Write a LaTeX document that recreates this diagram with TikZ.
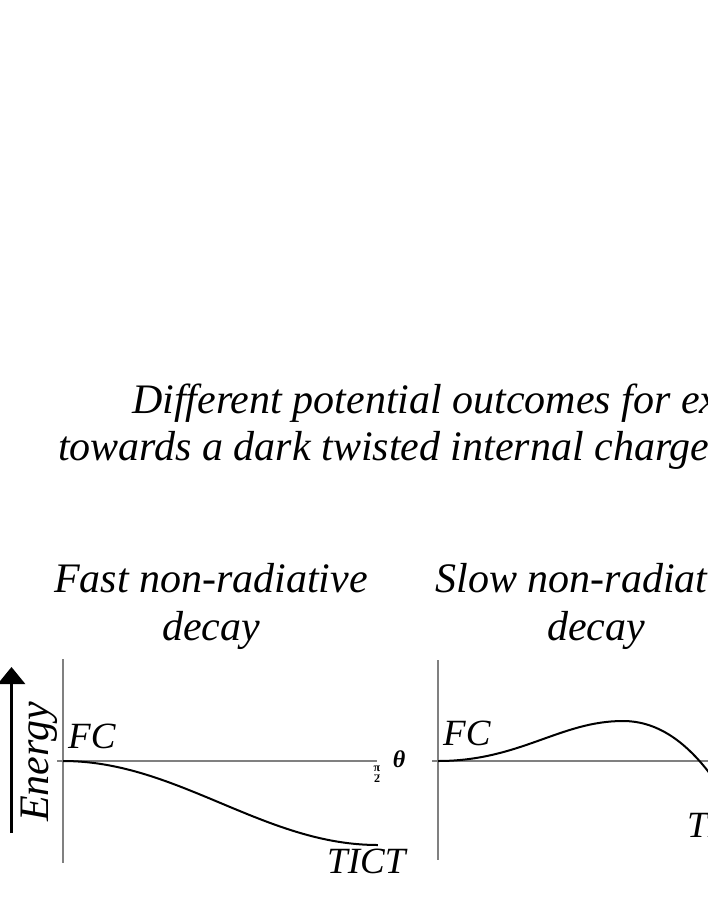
\documentclass[tikz,border=0pt]{standalone}
\usepackage{fontspec}
\setmainfont{Liberation Serif}
\usetikzlibrary{arrows.meta}
\definecolor{axisgray}{HTML}{808080}
\tikzset{
  bigtxt/.style={inner sep=0pt, font=\fontsize{42bp}{48bp}\selectfont\itshape},
  lbltxt/.style={inner sep=0pt, font=\fontsize{37bp}{42bp}\selectfont\itshape},
  axisline/.style={draw=axisgray, line width=1.5bp},
  curveline/.style={draw=black, line width=2bp},
}
\begin{document}
\begin{tikzpicture}[x=1bp,y=-1bp]
\useasboundingbox (0,0) rectangle (708,917);
\clip (0,0) rectangle (708,917);
\fill[white] (0,0) rectangle (708,917);
% title
\node[bigtxt, anchor=base west] (t1) at (132,413) {Different potential outcomes for excitation};
\node[bigtxt, anchor=base west] (t2) at (58,460) {towards a dark twisted internal charge transfer};
% headings
\node[bigtxt, anchor=base] (h1a) at (211,592) {Fast non-radiative};
\node[bigtxt, anchor=base] (h1b) at (211,640) {decay};
\node[bigtxt, anchor=base] (h2a) at (596,592) {Slow non-radiative};
\node[bigtxt, anchor=base] (h2b) at (596,640) {decay};
% energy arrow
\coordinate (ebot) at (11.5,833);
\coordinate (etop) at (11.5,667);
\draw[line width=3bp, -{Triangle[width=27bp,length=17bp]}] (ebot) -- (etop);
\node[bigtxt, rotate=90, anchor=base west] (energy) at (48,822) {Energy};
% panel 1
\coordinate (v1t) at (63,659);
\coordinate (v1b) at (63,863);
\coordinate (h1l) at (57,761);
\coordinate (h1r) at (377,761);
\draw[axisline] (v1t) -- (v1b);
\draw[axisline] (h1l) -- (h1r);
\draw[curveline] plot[domain=0:1, samples=80, smooth] ({63+315*\x}, {761+84*(1-cos(180*\x))/2});
\node[lbltxt, anchor=base west] (fc1) at (68,748) {FC};
\node[lbltxt, anchor=base west] (tict1) at (327,873) {TICT};
\node[inner sep=0pt, align=center, font=\fontsize{12bp}{11bp}\selectfont\bfseries] (pi2) at (377,774) {π\\2};
\draw[axisgray, line width=0.8bp] ([xshift=-3bp]pi2.center) -- ([xshift=3bp]pi2.center);
\node[inner sep=0pt, font=\fontsize{24bp}{26bp}\selectfont\bfseries\itshape] (theta) at (399,759) {θ};
% panel 2
\coordinate (v2t) at (438,660);
\coordinate (v2b) at (438,860);
\coordinate (h2l) at (432,761);
\coordinate (h2r) at (712,761);
\draw[axisline] (v2t) -- (v2b);
\draw[axisline] (h2l) -- (h2r);
\coordinate (c0) at (438,761);
\coordinate (cm) at (623,721);
\coordinate (ce) at (716,782);
\draw[curveline] (c0) .. controls (520,761) and (560,721) .. (cm) .. controls (660,721) and (690,745) .. (ce);
\node[lbltxt, anchor=base west] (fc2) at (443,745) {FC};
\node[lbltxt, anchor=base west] (tict2) at (687,837) {TICT};
\end{tikzpicture}
\end{document}
